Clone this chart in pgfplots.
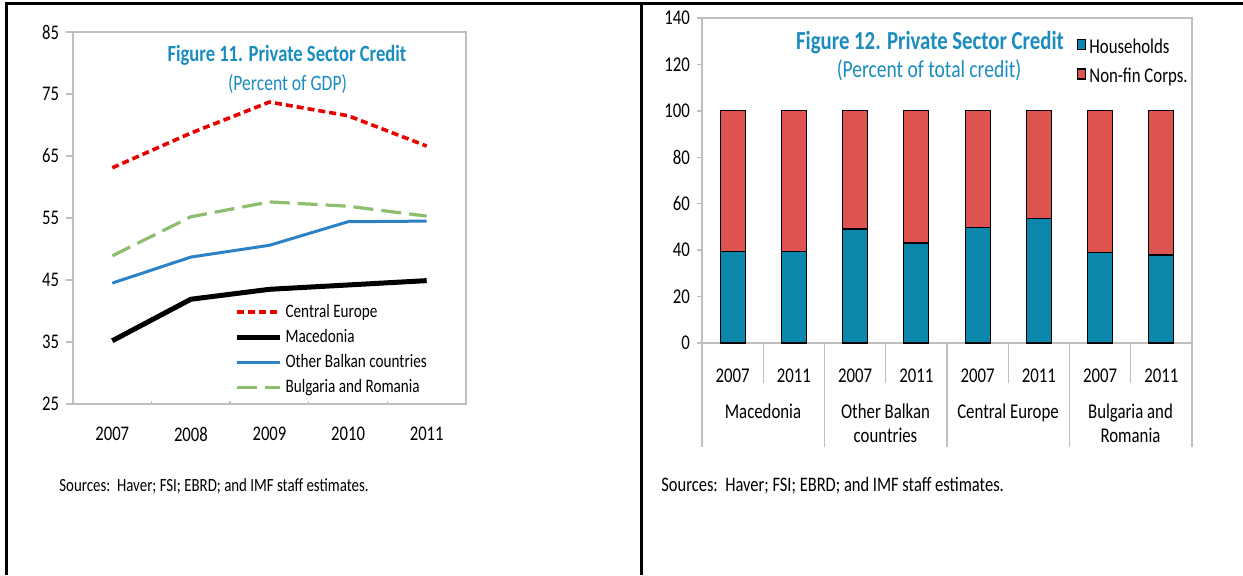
\documentclass[border=0pt]{standalone}
\usepackage{fontspec}
\setmainfont{Carlito}[FakeStretch=0.8]
\usepackage{pgfplots}
\pgfplotsset{compat=1.18}

\definecolor{framegray}{RGB}{191,191,191}
\definecolor{titleblue}{RGB}{27,140,190}
\definecolor{cered}{RGB}{230,0,0}
\definecolor{obblue}{RGB}{44,130,196}
\definecolor{brgreen}{RGB}{140,190,110}
\definecolor{hhteal}{RGB}{10,135,170}
\definecolor{nfred}{RGB}{222,82,80}

\begin{document}
\begin{tikzpicture}
\useasboundingbox (0,0) rectangle (621.5pt,287.5pt);

% Figure 11: lines (years 2007..2011 plotted at 0..4)
\begin{axis}[
  at={(36.5pt,85.5pt)}, anchor=south west,
  width=196.5pt, height=186pt, scale only axis,
  xmin=-0.5, xmax=4.5, ymin=25, ymax=85,
  xtick={0,1,2,3,4},
  xticklabels={2007,2008,2009,2010,2011},
  ytick={25,35,45,55,65,75,85},
  xtick pos=bottom, ytick pos=left,
  tick align=outside,
  major tick length=3.5pt,
  xtick style={draw=none},
  axis line style={draw=framegray, line width=0.7pt},
  tick style={draw=framegray, line width=0.7pt},
  /pgf/number format/assume math mode=true,
  tick label style={font=\fontsize{10.4}{12}\selectfont, text=black},
  x tick label style={yshift=-4.5pt},
  legend style={at={(0.41,0.278)}, anchor=north west, draw=none, fill=none,
    font=\fontsize{9.5}{11}\selectfont, row sep=1.5pt, inner sep=0pt,
    nodes={inner sep=1.5pt}},
  legend cell align=left,
  legend image code/.code={\draw[#1] (0pt,0pt) -- (21.5pt,0pt);},
  clip=false,
]
\addplot[cered, line width=1.8pt, dash pattern=on 3.5pt off 2pt] coordinates {
  (0,63.1) (1,68.7) (2,73.7) (3,71.5) (4,66.6)};
\addlegendentry{Central Europe}
\addplot[black, line width=2.5pt] coordinates {
  (0,35.2) (1,41.9) (2,43.5) (3,44.2) (4,44.9)};
\addlegendentry{Macedonia}
\addplot[obblue, line width=1.5pt] coordinates {
  (0,44.5) (1,48.7) (2,50.6) (3,54.4) (4,54.5)};
\addlegendentry{Other Balkan countries}
\addplot[brgreen, line width=1.6pt, dash pattern=on 10pt off 4pt] coordinates {
  (0,48.9) (1,55.2) (2,57.6) (3,56.9) (4,55.3)};
\addlegendentry{Bulgaria and Romania}
\draw[framegray, line width=0.7pt] (axis cs:0.5,25) -- (axis cs:0.5,25.5);
\draw[framegray, line width=0.7pt] (axis cs:1.5,25) -- (axis cs:1.5,25.5);
\draw[framegray, line width=0.7pt] (axis cs:2.5,25) -- (axis cs:2.5,25.5);
\draw[framegray, line width=0.7pt] (axis cs:3.5,25) -- (axis cs:3.5,25.5);
\end{axis}

% Figure 12: stacked bars
\begin{axis}[
  at={(351pt,116pt)}, anchor=south west,
  width=245pt, height=162.5pt, scale only axis,
  ybar stacked, bar width=12.5pt,
  xmin=-0.5, xmax=7.5, ymin=0, ymax=140,
  xtick={0,1,2,3,4,5,6,7},
  xticklabels={2007,2011,2007,2011,2007,2011,2007,2011},
  ytick={0,20,40,60,80,100,120,140},
  xtick pos=bottom, ytick pos=left,
  tick align=outside,
  major tick length=2.5pt,
  xtick style={draw=none},
  axis line style={draw=framegray, line width=0.7pt},
  tick style={draw=framegray, line width=0.7pt},
  /pgf/number format/assume math mode=true,
  tick label style={font=\fontsize{10.5}{12}\selectfont, text=black},
  x tick label style={yshift=-7pt},
  legend style={at={(0.765,0.947)}, anchor=north west, draw=none, fill=none,
    font=\fontsize{10.5}{12}\selectfont, row sep=3pt, inner sep=0pt,
    nodes={inner sep=1.5pt}},
  legend cell align=left,
  legend image code/.code={\draw[#1] (0pt,-1pt) rectangle (4pt,4pt);},
  clip=false,
]
\addplot[fill=hhteal, draw=black, line width=0.6pt] coordinates {
  (0,39.3) (1,39.3) (2,49.1) (3,43.1) (4,49.7) (5,53.6) (6,39.1) (7,37.9)};
\addlegendentry{Households}
\addplot[fill=nfred, draw=black, line width=0.6pt] coordinates {
  (0,60.7) (1,60.7) (2,50.9) (3,56.9) (4,50.3) (5,46.4) (6,60.9) (7,62.1)};
\addlegendentry{Non-fin Corps.}
\draw[framegray, line width=0.7pt] (axis cs:0.5,0) -- (axis cs:0.5,-17.2);
\draw[framegray, line width=0.7pt] (axis cs:2.5,0) -- (axis cs:2.5,-17.2);
\draw[framegray, line width=0.7pt] (axis cs:4.5,0) -- (axis cs:4.5,-17.2);
\draw[framegray, line width=0.7pt] (axis cs:6.5,0) -- (axis cs:6.5,-17.2);
\draw[framegray, line width=0.7pt] (axis cs:-0.5,0) -- (axis cs:-0.5,-44.8);
\draw[framegray, line width=0.7pt] (axis cs:1.5,0) -- (axis cs:1.5,-44.8);
\draw[framegray, line width=0.7pt] (axis cs:3.5,0) -- (axis cs:3.5,-44.8);
\draw[framegray, line width=0.7pt] (axis cs:5.5,0) -- (axis cs:5.5,-44.8);
\draw[framegray, line width=0.7pt] (axis cs:7.5,0) -- (axis cs:7.5,-44.8);
\end{axis}

\begin{scope}[x=0.5pt, y=0.5pt]
  % titles
  \node[anchor=base, text=titleblue, font=\fontsize{11.6}{13}\selectfont\bfseries]
    at (287,514) {Figure 11. Private Sector Credit};
  \node[anchor=base, text=titleblue, font=\fontsize{11}{13}\selectfont]
    at (287.5,485) {(Percent of GDP)};
  \node[anchor=base, text=titleblue, font=\fontsize{13}{15}\selectfont\bfseries]
    at (930,526) {Figure 12. Private Sector Credit};
  \node[anchor=base, text=titleblue, font=\fontsize{12.2}{14}\selectfont]
    at (929,498) {(Percent of total credit)};
  % group labels
  \node[anchor=base, font=\fontsize{10.5}{12}\selectfont] at (763,157) {Macedonia};
  \node[anchor=base, font=\fontsize{10.5}{12}\selectfont] at (885.5,157) {Other Balkan};
  \node[anchor=base, font=\fontsize{10.5}{12}\selectfont] at (885.5,133) {countries};
  \node[anchor=base, font=\fontsize{10.5}{12}\selectfont] at (1008,157) {Central Europe};
  \node[anchor=base, font=\fontsize{10.5}{12}\selectfont] at (1130.5,157) {Bulgaria and};
  \node[anchor=base, font=\fontsize{10.5}{12}\selectfont] at (1130.5,133) {Romania};
  % sources
  \node[anchor=base west, inner sep=0pt, font=\fontsize{9.3}{11}\selectfont]
    at (59,84) {Sources:\ \ Haver; FSI; EBRD; and IMF staff estimates.};
  \node[anchor=base west, inner sep=0pt, font=\fontsize{10.3}{12}\selectfont]
    at (661,84) {Sources:\ \ Haver; FSI; EBRD; and IMF staff estimates.};
  % frame
  \draw[line width=1.5pt] (6,0) -- (6,572) -- (1243,572);
  \draw[line width=1.5pt] (641,0) -- (641,572);
\end{scope}
\end{tikzpicture}
\end{document}
